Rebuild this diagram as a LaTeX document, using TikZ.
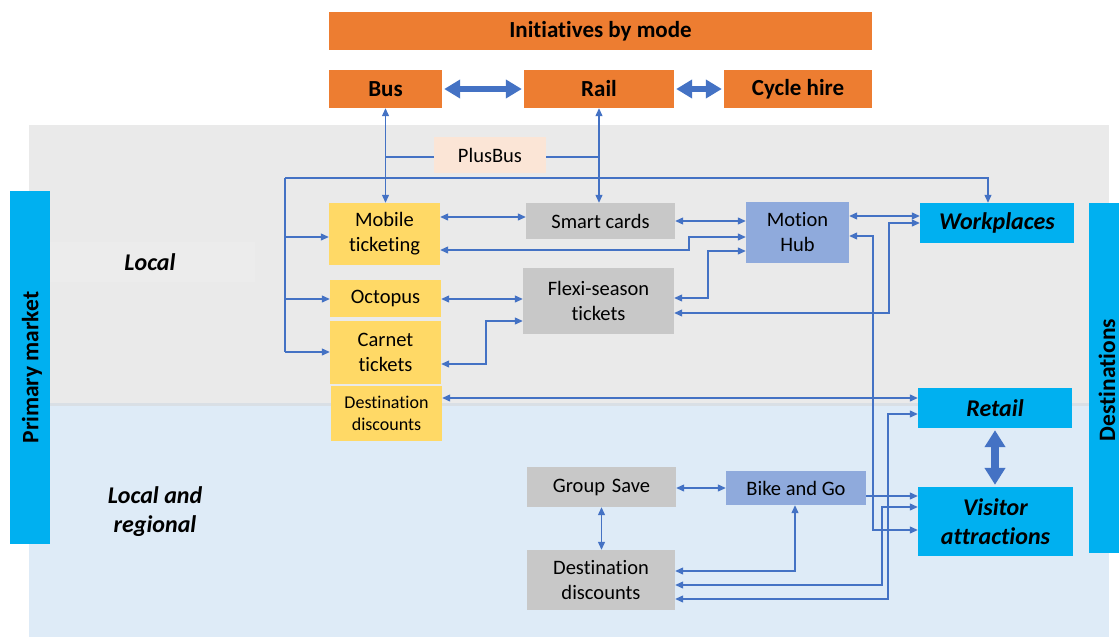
\documentclass[tikz,border=0pt]{standalone}
\usepackage{fontspec}
\setmainfont{Carlito}[Ligatures=NoCommon]
\usetikzlibrary{arrows.meta}
\definecolor{orng}{HTML}{ED7D31}
\definecolor{ylw}{HTML}{FFD966}
\definecolor{gry}{HTML}{C8C8C8}
\definecolor{hub}{HTML}{8FAADC}
\definecolor{cyanb}{HTML}{00B0F0}
\definecolor{peach}{HTML}{FBE5D6}
\definecolor{lnb}{HTML}{4472C4}
\definecolor{reggray}{HTML}{EAEAEA}
\definecolor{regblue}{HTML}{DEEBF7}
\definecolor{bandc}{HTML}{D9DFE5}
\definecolor{localbg}{HTML}{ECECEC}
\begin{document}
\begin{tikzpicture}[x=1pt,y=-1pt,
  box/.style={rectangle,inner sep=0pt,draw=none,align=center,text=black},
  modebox/.style={box,fill=orng,font=\bfseries\fontsize{23}{27}\selectfont},
  ybox/.style={box,fill=ylw,font=\fontsize{20.5}{25}\selectfont},
  gbox/.style={box,fill=gry,font=\fontsize{20.5}{25}\selectfont},
  hbox/.style={box,fill=hub,font=\fontsize{20.5}{25}\selectfont},
  pbox/.style={box,fill=peach,font=\fontsize{20.5}{25}\selectfont},
  dbox/.style={box,fill=cyanb,font=\bfseries\itshape\fontsize{24}{29}\selectfont},
  sidebar/.style={box,fill=cyanb},
  sidetext/.style={font=\bfseries\fontsize{23.5}{28}\selectfont,rotate=90,inner sep=0pt,text=black},
  rowlabel/.style={font=\bfseries\itshape\fontsize{24}{29}\selectfont,align=center,inner sep=0pt,text=black},
  conn/.style={draw=lnb,line width=1.2pt,arrows={Triangle[length=8pt,width=7pt]-Triangle[length=8pt,width=7pt]}},
  conn1/.style={draw=lnb,line width=1.2pt,arrows={-Triangle[length=8pt,width=7pt]}},
  plainline/.style={draw=lnb,line width=1.2pt},
  bigarrow/.style={draw=lnb,line width=6pt,arrows={Triangle[length=16pt,width=18pt]-Triangle[length=16pt,width=18pt]},shorten <=2pt,shorten >=2pt},
]
\useasboundingbox (0,0) rectangle (1119,637);
% backgrounds
\fill[white] (0,0) rectangle (1119,637);
\fill[reggray] (29,125) rectangle (1109,404);
\fill[regblue] (29,404) rectangle (1109,637);
\fill[bandc] (29,403) rectangle (1109,406);
\fill[localbg] (50,242) rectangle (255,282);

% side bars
\node[sidebar,minimum width=40pt,minimum height=353pt] (primbar) at (30,367.5) {};
\node[sidetext] (primtext) at (32,367.5) {Primary market};
\node[sidebar,minimum width=30pt,minimum height=350pt] (destbar) at (1104,378) {};
\node[sidetext] (desttext) at (1107,380) {Destinations};

% row labels
\node[rowlabel] (local) at (150,262) {Local};
\node[rowlabel] (localreg) at (155,512) {Local and\\regional};

% mode boxes
\node[modebox,minimum width=543pt,minimum height=38pt] (init) at (600.5,31) {Initiatives by mode};
\node[modebox,minimum width=113pt,minimum height=38pt] (bus) at (385.5,89) {Bus};
\node[modebox,minimum width=150pt,minimum height=38pt] (rail) at (599,89) {Rail};
\node[modebox,minimum width=148pt,minimum height=38pt] (cycle) at (798,89) {Cycle hire};

% products
\node[pbox,minimum width=112pt,minimum height=36pt] (plusbus) at (490,155) {PlusBus};
\node[ybox,minimum width=111pt,minimum height=62pt] (mobile) at (384.5,234) {Mobile\\ticketing};
\node[gbox,minimum width=149pt,minimum height=36pt] (smart) at (600.5,221) {Smart cards};
\node[hbox,minimum width=103pt,minimum height=61pt] (motion) at (797.5,232.5) {Motion\\Hub};
\node[ybox,minimum width=111pt,minimum height=37pt] (octopus) at (385.5,298.5) {Octopus};
\node[ybox,minimum width=111pt,minimum height=63pt] (carnet) at (385.5,352.5) {Carnet\\tickets};
\node[ybox,minimum width=111pt,minimum height=55pt,font=\fontsize{18}{22.5}\selectfont] (desty) at (386.5,413.5) {Destination\\discounts};
\node[gbox,minimum width=151pt,minimum height=66pt] (flexi) at (598.5,301) {Flexi-season\\tickets};
\node[gbox,minimum width=149pt,minimum height=40pt] (group) at (601.5,487) {Group\,\,Save};
\node[hbox,minimum width=140pt,minimum height=34pt] (bike) at (796,488) {Bike and Go};
\node[gbox,minimum width=148pt,minimum height=60pt] (destg) at (601,580) {Destination\\discounts};

% destinations
\node[dbox,minimum width=154pt,minimum height=40pt] (work) at (997,223) {Workplaces};
\node[dbox,minimum width=154pt,minimum height=40pt] (retail) at (995,408) {Retail};
\node[dbox,minimum width=155pt,minimum height=69pt] (visitor) at (995.5,521.5) {Visitor\\attractions};

% thick arrows
\draw[bigarrow] (bus.east) -- (rail.west);
\draw[bigarrow] (rail.east) -- (cycle.west);
\draw[bigarrow,line width=8pt,arrows={Triangle[length=17pt,width=20pt]-Triangle[length=17pt,width=20pt]}] (retail.south) -- (retail.south |- visitor.north);

% mode to products
\draw[conn] (bus.south) -- (bus.south |- mobile.north);
\draw[conn] (rail.south) -- (rail.south |- smart.north);
\draw[plainline] (plusbus.west |- 0,157) -- (bus.south |- 0,157);
\draw[plainline] (plusbus.east |- 0,157) -- (rail.south |- 0,157);

% left feeder
\coordinate (ftop) at (285,178);
\coordinate (fone) at (285,237);
\coordinate (ftwo) at (285,299);
\coordinate (fbot) at (285,352);
\draw[plainline] (ftop) -- (fbot);
\draw[conn1] (ftop) -| ([xshift=-9pt]work.north);
\draw[conn1] (fone) -- (fone -| mobile.west);
\draw[conn1] (ftwo) -- (ftwo -| octopus.west);
\draw[conn1] (fbot) -- (fbot -| carnet.west);

% product links
\draw[conn] (mobile.east |- 0,217) -- (smart.west |- 0,217);
\draw[conn] (mobile.east |- 0,250) -| (689,237) -- (motion.west |- 0,237);
\draw[conn] (smart.east |- 0,221) -- (motion.west |- 0,221);
\draw[conn] (flexi.east |- 0,298) -| (708,251) -- (motion.west |- 0,251);
\draw[conn] (flexi.east |- 0,313) -| (889,223) -- (work.west |- 0,223);
\draw[conn] (motion.east |- 0,216) -- (work.west |- 0,216);
\draw[conn] (motion.east |- 0,236) -| (873,530) -- (visitor.west |- 0,530);
\draw[conn] (octopus.east |- 0,299) -- (flexi.west |- 0,299);
\draw[conn] (carnet.east |- 0,364) -| (486,321) -- (flexi.west |- 0,321);
\draw[conn] (desty.east |- 0,398) -- (retail.west |- 0,398);
\draw[conn] (group.east |- 0,488) -- (bike.west |- 0,488);
\draw[conn] (group.south) -- (group.south |- destg.north);
\draw[conn] (destg.east |- 0,571) -| (795,0 |- bike.south);
\draw[conn] (destg.east |- 0,585) -| (882,507) -- (visitor.west |- 0,507);
\draw[conn] (destg.east |- 0,599) -| (888,414) -- (retail.west |- 0,414);
\draw[conn1] (bike.east |- 0,496) -- (visitor.west |- 0,496);
\end{tikzpicture}
\end{document}
